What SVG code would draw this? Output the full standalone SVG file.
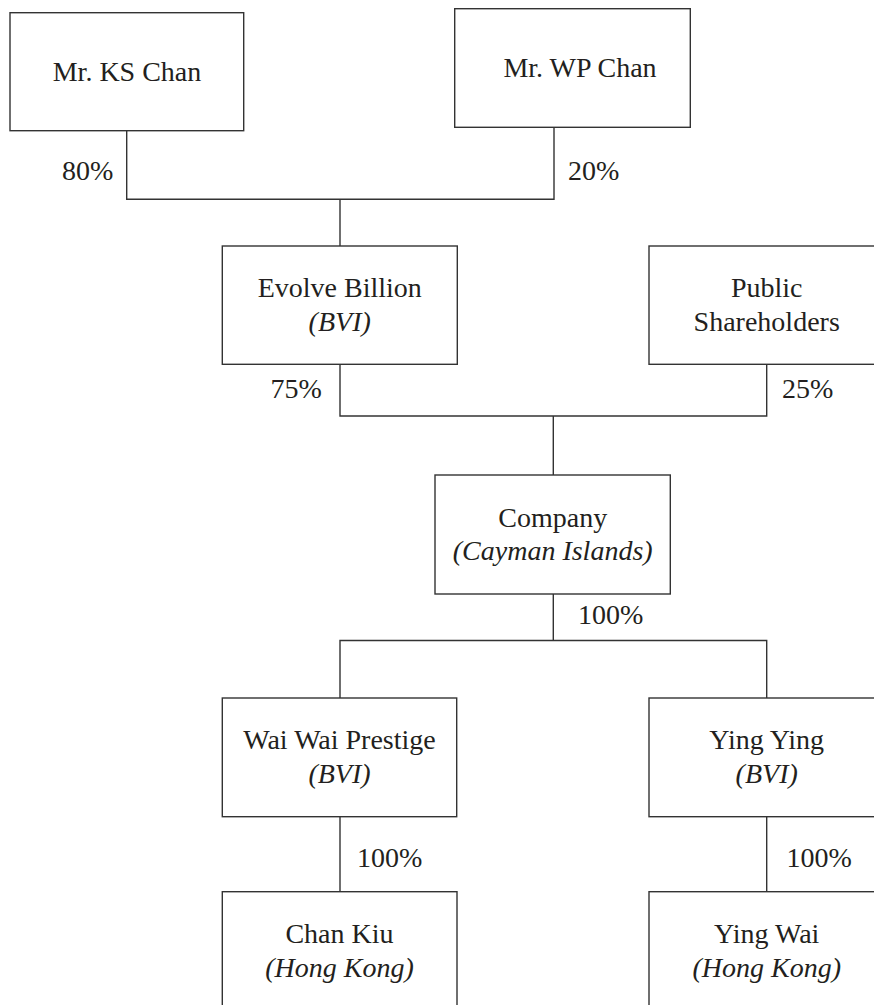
<svg xmlns="http://www.w3.org/2000/svg" width="874" height="1005" viewBox="0 0 874 1005">
<style>
.box{fill:#fff;stroke:#333;stroke-width:1.4}
.conn{fill:none;stroke:#333;stroke-width:1.4}
text{font-family:"Liberation Serif","Times New Roman",serif;font-size:28px;fill:#231f20;text-anchor:middle}
.it{font-style:italic}
.pct{text-anchor:start}
</style>
<rect width="874" height="1005" fill="#fff"/>
<g id="connectors">
<path class="conn" d="M126.7,130.7 V199.3 H554 V127.3"/>
<path class="conn" d="M340,199.3 V246"/>
<path class="conn" d="M340,364.3 V416 H766.7 V364.3"/>
<path class="conn" d="M553.3,416 V475"/>
<path class="conn" d="M553.3,594 V640.5"/>
<path class="conn" d="M340,698 V640.5 H766.7 V698"/>
<path class="conn" d="M340,816.7 V891.7"/>
<path class="conn" d="M766.7,816.7 V891.7"/>
<text class="pct" x="62" y="180">80%</text>
<text class="pct" x="568" y="180">20%</text>
<text class="pct" x="270.5" y="397.5">75%</text>
<text class="pct" x="782" y="398">25%</text>
<text class="pct" x="578" y="624">100%</text>
<text class="pct" x="357" y="866.7">100%</text>
<text class="pct" x="786.5" y="866.7">100%</text>
</g>
<g id="ks-chan">
<rect class="box" x="10" y="12.7" width="233.7" height="118"/>
<text x="127" y="81">Mr. KS Chan</text>
</g>
<g id="wp-chan">
<rect class="box" x="454.7" y="8.7" width="235.6" height="118.6"/>
<text x="580" y="77.3">Mr. WP Chan</text>
</g>
<g id="evolve-billion">
<rect class="box" x="222.3" y="246" width="235" height="118.3"/>
<text x="339.7" y="297.3">Evolve Billion</text>
<text class="it" x="339.7" y="330.7">(BVI)</text>
</g>
<g id="public-shareholders">
<rect class="box" x="649" y="246" width="235.4" height="118.3"/>
<text x="766.7" y="296.7">Public</text>
<text x="766.7" y="330.7">Shareholders</text>
</g>
<g id="company">
<rect class="box" x="435" y="475" width="235.3" height="119"/>
<text x="552.7" y="527.3">Company</text>
<text class="it" x="552.7" y="560">(Cayman Islands)</text>
</g>
<g id="wai-wai-prestige">
<rect class="box" x="222.3" y="698" width="234.4" height="118.7"/>
<text x="339.5" y="748.7">Wai Wai Prestige</text>
<text class="it" x="339.5" y="783.3">(BVI)</text>
</g>
<g id="ying-ying">
<rect class="box" x="649" y="698" width="235.4" height="118.7"/>
<text x="766.7" y="748.7">Ying Ying</text>
<text class="it" x="766.7" y="783.3">(BVI)</text>
</g>
<g id="chan-kiu">
<rect class="box" x="222.3" y="891.7" width="234.7" height="118.7"/>
<text x="339.5" y="942.5">Chan Kiu</text>
<text class="it" x="339.5" y="977">(Hong Kong)</text>
</g>
<g id="ying-wai">
<rect class="box" x="649" y="891.7" width="235.4" height="118.7"/>
<text x="766.7" y="942.5">Ying Wai</text>
<text class="it" x="766.7" y="977">(Hong Kong)</text>
</g>
</svg>
